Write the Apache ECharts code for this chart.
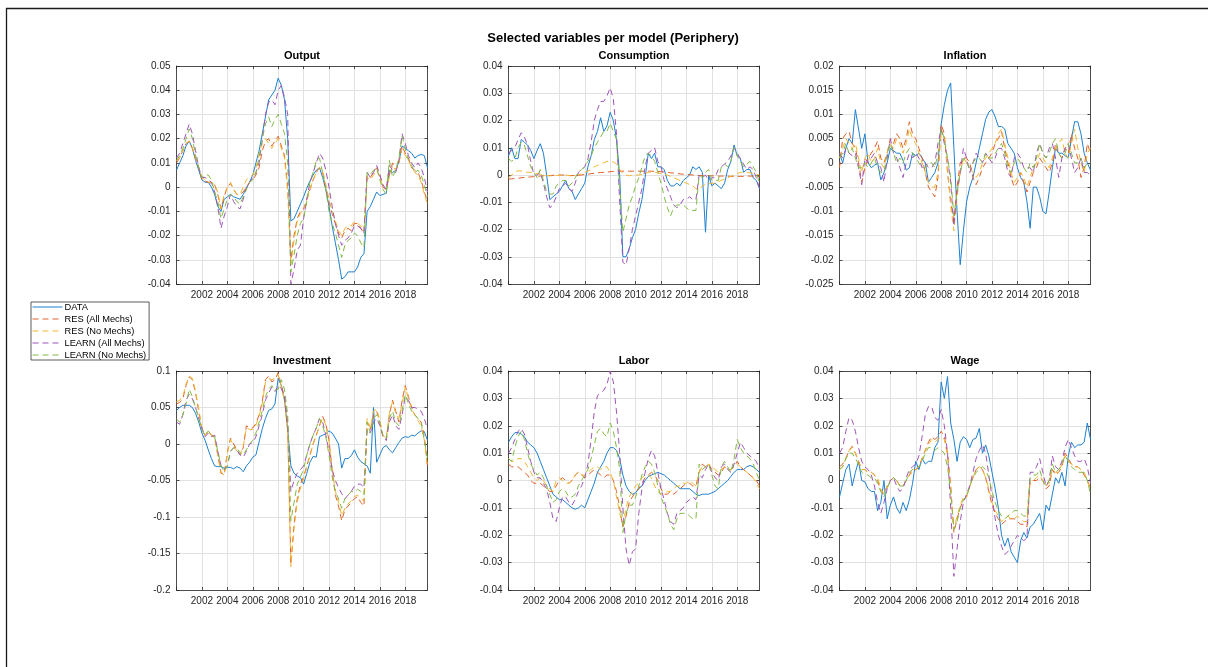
<!DOCTYPE html>
<html><head><meta charset="utf-8">
<script src="https://cdn.jsdelivr.net/npm/echarts@6/dist/echarts.min.js"></script>
<style>html,body{margin:0;padding:0;background:#fff}#c{width:1208px;height:667px}</style>
</head><body><div id="c"></div>
<script>
// ---------------- DATA ----------------
const FIRST_YEAR = 2000;
const QUARTERS = 80; // 2000Q1 .. 2019Q4
const seriesNames = ['DATA', 'RES (All Mechs)', 'RES (No Mechs)', 'LEARN (All Mechs)', 'LEARN (No Mechs)'];
const panelTitles = ['Output', 'Consumption', 'Inflation', 'Investment', 'Labor', 'Wage'];
const mainTitle = 'Selected variables per model (Periphery)';
const yMin = [-0.04, -0.04, -0.025, -0.2, -0.04, -0.04];
const yMax = [0.05, 0.04, 0.02, 0.1, 0.04, 0.04];
const yStep = [0.01, 0.01, 0.005, 0.05, 0.01, 0.01];

// Output
const out_data = [
 .007,.010,.013,.017,.019,.016,.011,.007,.003,.002,
 .002,.000,-.003,-.008,-.010,-.005,-.004,-.003,-.004,-.0045,
 -.005,-.003,-.0005,.002,.005,.010,.015,.022,.029,.036,
 .038,.040,.045,.042,.036,.020,-.014,-.013,-.010,-.007,
 -.004,-.0005,.0025,.005,.007,.008,.004,-.001,-.008,-.016,
 -.023,-.030,-.038,-.037,-.035,-.035,-.035,-.033,-.029,-.0275,
 -.010,-.008,-.005,-.002,-.0035,-.003,-.0026,.007,.006,.007,
 .0105,.017,.016,.015,.014,.012,.013,.0135,.013,.008];
const out_resAll = [
 .010,.012,.015,.018,.019,.016,.012,.008,.003,.0025,
 .002,.0015,.001,-.003,-.009,-.004,.000,.0015,-.001,-.003,
 -.003,-.002,.000,.002,.003,.005,.008,.015,.019,.020,
 .017,.019,.021,.017,.013,.000,-.030,-.020,-.013,-.010,
 -.009,-.005,-.001,.003,.006,.008,.006,.000,-.006,-.011,
 -.015,-.019,-.021,-.018,-.017,-.018,-.015,-.015,-.017,-.019,
 .005,.004,.006,.008,.005,.000,-.001,.005,.010,.007,
 .010,.017,.014,.012,.008,.007,.006,.003,-.002,-.006];
const out_resNo = [
 .011,.012,.015,.018,.019,.016,.012,.008,.004,.003,
 .002,.002,.001,-.002,-.009,-.003,.000,.002,-.001,-.003,
 -.003,.000,.003,.004,.005,.008,.014,.018,.020,.018,
 .016,.018,.020,.016,.012,-.002,-.032,-.022,-.014,-.011,
 -.009,-.006,-.001,.003,.006,.008,.007,.001,-.005,-.010,
 -.014,-.018,-.020,-.017,-.016,-.016,-.014,-.015,-.016,-.018,
 .004,.003,.005,.007,.004,.000,-.001,.004,.009,.007,
 .010,.016,.013,.011,.008,.006,.005,.002,-.003,-.007];
const out_learnAll = [
 .012,.014,.018,.022,.026,.022,.015,.008,.004,.004,
 .003,.002,-.002,-.008,-.017,-.012,-.008,-.003,-.006,-.008,
 -.009,-.005,.000,.002,.004,.006,.010,.020,.030,.035,
 .036,.034,.040,.042,.037,.030,-.040,-.034,-.026,-.024,
 -.013,-.005,.002,.006,.010,.014,.012,.007,.000,-.008,
 -.015,-.020,-.024,-.022,-.021,-.019,-.016,-.016,-.017,-.019,
 .006,.004,.006,.009,.005,.001,-.001,.009,.007,.006,
 .011,.022,.018,.013,.010,.008,.010,.008,.004,-.002];
const out_learnNo = [
 .011,.013,.016,.020,.024,.020,.013,.008,.004,.005,
 .005,.003,-.002,-.006,-.013,-.009,-.005,-.003,-.004,-.006,
 -.007,-.004,-.001,.002,.003,.006,.012,.020,.026,.029,
 .025,.028,.030,.026,.022,.010,-.035,-.028,-.020,-.015,
 -.013,-.006,.002,.006,.011,.012,.006,-.001,-.010,-.015,
 -.019,-.024,-.029,-.024,-.022,-.021,-.019,-.020,-.023,-.025,
 .006,.005,.007,.008,.003,-.001,-.003,.011,.004,.007,
 .012,.021,.016,.011,.009,.006,.007,.005,.001,-.004];

// Consumption
const con_data = [
 .007,.010,.006,.006,.013,.012,.011,.009,.006,.009,
 .0115,.008,.000,-.009,-.008,-.007,-.006,-.004,-.002,-.005,
 -.006,-.009,-.007,-.005,-.003,.003,.007,.013,.016,.021,
 .016,.018,.023,.020,.013,.000,-.030,-.030,-.027,-.023,
 -.020,-.014,-.009,-.001,.008,.006,.008,.003,.003,.002,
 -.002,-.004,-.004,-.003,-.004,-.002,-.001,.000,.003,.002,
 .003,.001,-.021,.000,-.004,-.003,-.004,-.005,-.003,.002,
 .005,.011,.007,.006,.001,.002,.002,-.001,-.002,-.005];
const con_resAll = [
 -.0015,-.0014,-.0013,-.0012,-.001,-.0009,-.0008,-.0007,-.0006,-.0005,
 -.0004,-.0003,-.0003,-.0002,-.0001,-.0001,.0000,.0000,-.0001,-.0002,
 -.0002,-.0002,-.0001,.0000,.0002,.0003,.0005,.0006,.0008,.0009,
 .0010,.0011,.0012,.0013,.0013,.0014,.0014,.0014,.0014,.0014,
 .0014,.0014,.0014,.0014,.0014,.0014,.0013,.0013,.0012,.0011,
 .0010,.0008,.0007,.0006,.0004,.0003,.0002,.0001,.0000,-.0001,
 -.0002,-.0002,-.0003,-.0003,-.0003,-.0003,-.0004,-.0004,-.0004,-.0004,
 -.0005,-.0005,-.0005,-.0005,-.0005,-.0004,-.0004,-.0004,-.0005,-.0006];
const con_resNo = [
 -.001,.000,.001,.0015,.0015,.001,.001,.001,.0008,.0005,
 .0003,.000,-.0002,-.0003,-.0003,-.0002,-.0001,.000,.000,-.0002,
 -.0003,-.0002,.000,.0005,.001,.0015,.002,.003,.0035,.004,
 .0045,.005,.005,.0048,.004,.002,.0005,.000,-.0003,.000,
 .000,.000,.0002,.0005,.001,.0012,.001,.0008,.0005,.0002,
 .000,-.0005,-.001,-.0015,-.002,-.0025,-.003,-.0035,-.004,-.005,
 -.0055,-.004,-.0035,-.003,-.003,-.003,-.0025,-.002,-.0015,-.001,
 -.0005,.000,.0005,.001,.001,.001,.0008,.0005,.0003,.000];
const con_learnAll = [
 .008,.009,.010,.013,.0155,.014,.011,.005,.000,.000,
 .001,-.003,-.008,-.012,-.011,-.008,-.005,-.004,-.003,-.005,
 -.006,-.003,.001,.002,.003,.006,.012,.020,.024,.027,
 .027,.029,.032,.028,.015,-.010,-.032,-.033,-.027,-.020,
 -.015,-.010,-.005,.003,.008,.009,.010,.005,.003,-.002,
 -.005,-.008,-.011,-.012,-.011,-.009,-.009,-.008,-.009,-.009,
 .000,-.001,.000,-.002,-.001,-.001,.002,.003,.004,.005,
 .007,.010,.008,.006,.004,.002,.003,.002,-.001,-.005];
const con_learnNo = [
 .006,.005,.006,.010,.012,.011,.007,.003,.001,-.001,
 .002,-.002,-.006,-.007,-.007,-.004,-.003,-.002,-.002,-.004,
 -.003,-.001,.001,.002,.003,.005,.007,.010,.012,.014,
 .016,.016,.019,.016,.013,-.004,-.021,-.016,-.011,-.008,
 -.004,-.001,.003,.007,.008,.007,.005,.001,-.003,-.008,
 -.012,-.015,-.012,-.011,-.011,-.011,-.012,-.013,-.013,-.013,
 .000,-.001,.001,.002,-.002,-.002,-.002,.003,.004,.003,
 .005,.010,.007,.005,.003,.004,.005,.003,.001,-.003];

// Inflation
const inf_data = [
 .002,.000,.003,.005,.004,.011,.007,.003,.006,.000,
 -.001,-.0005,.000,-.0035,-.002,.000,.003,.0025,.002,.002,
 .0005,-.0015,-.001,.002,.0015,.002,.001,.000,-.004,-.003,
 -.002,.000,.008,.012,.015,.0165,.003,-.010,-.021,-.014,
 -.008,-.005,-.003,.000,.003,.006,.009,.0105,.011,.0095,
 .0075,.0075,.007,.004,.003,.002,-.001,-.003,-.004,-.008,
 -.0135,-.005,-.005,-.007,-.010,-.0105,-.006,-.001,.003,.002,
 .002,.0015,.001,.005,.0085,.0085,.006,.002,.000,-.0015];
const inf_resAll = [
 -.001,.005,.006,.0065,.004,.003,.000,-.004,-.001,.001,
 .002,.003,.0045,.001,.000,.002,.005,.004,.006,.005,
 .003,.005,.0085,.006,.005,.003,.001,-.002,-.005,-.006,
 -.007,-.003,.008,.006,-.002,-.008,-.012,-.005,.000,.001,
 .001,.000,-.003,-.0045,-.003,-.001,.000,.001,.002,.004,
 .005,.0065,.003,.000,-.003,-.005,-.004,-.002,-.004,-.006,
 -.004,-.002,-.001,.001,.000,-.001,-.002,.000,.004,.002,
 .001,.003,.002,.006,.003,.001,-.003,-.001,.004,.002];
const inf_resNo = [
 .001,.003,.005,.004,.003,.004,.001,-.002,.001,.002,
 .000,.001,.003,.000,-.001,.002,.004,.003,.005,.004,
 .002,.004,.007,.005,.004,.002,.000,-.002,-.004,-.005,
 -.005,-.002,.007,.005,-.001,-.009,-.014,-.007,-.002,.001,
 .000,-.001,-.002,-.003,-.002,.000,.001,.002,.003,.004,
 .006,.007,.004,.001,-.002,-.004,-.003,-.002,-.003,-.005,
 -.003,-.001,.000,.002,.001,.000,-.001,.001,.003,.004,
 .005,.002,.001,.004,.007,.003,.000,-.002,.002,.003];
const inf_learnAll = [
 .002,.001,.003,.002,.0015,.002,-.001,-.0045,.001,.000,
 .001,.002,.000,-.001,-.004,.001,.005,.002,.001,-.001,
 -.003,.000,.002,.001,.002,.001,-.001,.000,-.001,-.001,
 .000,.004,.007,.004,.001,-.004,-.013,-.006,-.002,.003,
 .001,-.002,.000,.002,.001,.000,.002,.001,.000,.001,
 .003,.003,.001,-.002,-.003,.001,.002,.001,-.001,-.001,
 -.001,-.002,.002,.004,.002,.001,.003,.004,.001,-.003,
 .001,.003,.004,.001,-.002,-.001,.001,-.002,-.002,-.0025];
const inf_learnNo = [
 .001,.002,.004,.002,.003,.001,-.001,-.001,.000,-.001,
 .000,.001,-.001,-.002,-.002,.002,.004,.002,.000,.001,
 .000,.002,.003,.002,.001,.000,-.001,-.001,.000,.000,
 -.001,.002,.007,.005,.001,-.003,-.011,-.006,-.002,.001,
 .000,-.001,.000,.001,.001,.000,.002,.001,.001,.002,
 .003,.004,.002,-.001,-.002,.000,.001,.000,-.001,-.002,
 .000,-.001,.001,.004,.002,.001,.002,.004,.005,.002,
 .001,.002,.004,.002,.000,.000,.001,-.001,.000,.000];

// Investment
const inv_data = [
 .046,.050,.053,.053,.053,.050,.042,.030,.015,.005,
 -.008,-.020,-.030,-.031,-.031,-.033,-.032,-.032,-.034,-.031,
 -.033,-.038,-.030,-.025,-.018,-.015,.003,.021,.035,.046,
 .048,.055,.090,.080,.060,.020,-.030,-.040,-.044,-.046,
 -.055,-.040,-.025,-.017,-.018,.010,.012,.014,.018,.015,
 .008,.000,-.033,-.020,-.020,-.016,-.008,-.018,-.024,-.027,
 -.030,-.040,.050,-.025,-.015,-.005,-.002,-.008,-.012,-.005,
 .002,.008,.010,.009,.012,.011,.015,.018,.017,.005];
const inv_resAll = [
 .055,.057,.062,.080,.092,.088,.070,.045,.020,.012,
 .018,.012,.010,-.015,-.040,-.042,-.012,.008,.000,-.008,
 -.015,-.005,.025,.022,.022,.028,.040,.058,.088,.093,
 .085,.088,.098,.080,.065,.020,-.165,-.110,-.075,-.055,
 -.045,-.030,-.015,.000,.012,.025,.038,.028,.005,-.035,
 -.070,-.085,-.105,-.090,-.085,-.080,-.075,-.072,-.080,-.085,
 .030,.020,.040,.045,.030,.010,.005,.040,.060,.045,
 .030,.060,.080,.065,.050,.040,.035,.030,.010,-.030];
const inv_resNo = [
 .058,.060,.065,.082,.093,.090,.072,.048,.022,.012,
 .018,.012,.008,-.015,-.038,-.043,-.012,.006,-.002,-.010,
 -.015,-.003,.022,.020,.020,.026,.038,.055,.085,.090,
 .088,.090,.095,.078,.060,.015,-.168,-.115,-.080,-.060,
 -.048,-.032,-.016,.000,.012,.025,.036,.026,.004,-.035,
 -.065,-.080,-.098,-.088,-.082,-.078,-.072,-.070,-.075,-.078,
 .035,.022,.045,.048,.032,.012,.008,.042,.058,.042,
 .035,.055,.078,.062,.048,.040,.032,.025,.005,-.032];
const inv_learnAll = [
 .030,.027,.040,.060,.068,.062,.050,.035,.022,.010,
 .015,.010,.012,-.010,-.030,-.035,-.030,-.010,-.005,-.008,
 -.015,-.018,-.010,.000,.002,.010,.025,.040,.060,.070,
 .078,.072,.080,.076,.065,.030,-.065,-.050,-.040,-.035,
 -.030,-.015,.000,.012,.022,.035,.030,.012,-.010,-.035,
 -.050,-.060,-.068,-.075,-.070,-.065,-.058,-.055,-.055,-.060,
 .020,.015,.030,.035,.025,.010,.005,.030,.040,.025,
 .020,.040,.065,.060,.050,.050,.048,.045,.035,.020];
const inv_learnNo = [
 .034,.030,.040,.055,.075,.065,.050,.035,.020,.012,
 .018,.012,.010,-.010,-.030,-.038,-.030,-.010,-.005,-.005,
 -.012,-.015,-.008,.000,.005,.015,.030,.045,.065,.075,
 .080,.073,.075,.088,.075,.040,-.105,-.080,-.055,-.045,
 -.035,-.015,.000,.012,.022,.035,.025,.010,-.015,-.045,
 -.065,-.075,-.088,-.075,-.070,-.065,-.066,-.062,-.065,-.070,
 .030,.015,.035,.040,.030,.010,.008,.035,.045,.030,
 .025,.045,.068,.055,.045,.040,.035,.030,.005,-.020];

// Labor
const lab_data = [
 .014,.016,.0175,.0175,.017,.016,.014,.013,.012,.010,
 .007,.004,.001,-.002,-.005,-.006,-.007,-.007,-.008,-.009,
 -.010,-.0105,-.010,-.009,-.010,-.007,-.004,-.001,.003,.005,
 .007,.010,.012,.012,.011,.008,.002,-.002,-.004,-.005,
 -.0045,-.003,-.002,.000,.0015,.002,.0025,.003,.0025,.002,
 .001,.000,-.001,-.002,-.003,-.003,-.003,-.003,-.004,-.005,
 -.0055,-.005,-.005,-.005,-.0045,-.004,-.003,-.002,-.001,.000,
 .0015,.003,.004,.004,.004,.005,.0055,.005,.004,.003];
const lab_resAll = [
 .006,.005,.005,.005,.004,.003,.002,.000,-.001,-.001,
 -.001,-.002,-.003,-.004,-.004,-.002,.000,.001,.000,-.001,
 .000,.002,.003,.002,.001,.002,.003,.004,.003,.002,
 .001,.002,.002,.000,-.004,-.010,-.017,-.013,-.008,-.006,
 -.004,-.003,-.001,.001,.002,.003,.002,.000,-.003,-.005,
 -.005,-.004,-.005,-.004,-.003,-.002,-.001,-.001,-.002,-.002,
 .003,.006,.005,.006,.004,.003,.002,.003,.005,.004,
 .004,.005,.007,.005,.004,.003,.002,.001,.000,-.002];
const lab_resNo = [
 .008,.007,.007,.008,.008,.007,.005,.003,.001,.000,
 .001,.000,-.002,-.003,-.004,.000,.001,.000,-.001,-.001,
 .000,.002,.003,.002,.002,.003,.004,.005,.005,.004,
 .005,.005,.003,.000,-.006,-.012,-.016,-.010,-.006,-.004,
 -.002,-.001,.001,.002,.002,.001,-.002,-.004,-.005,-.005,
 -.004,-.004,-.003,-.002,-.002,-.001,-.001,.000,-.001,-.002,
 .003,.005,.005,.006,.005,.004,.003,.004,.005,.004,
 .004,.005,.006,.005,.004,.003,.002,.001,-.001,-.003];
const lab_learnAll = [
 .010,.012,.015,.018,.019,.017,.012,.007,.003,.001,
 .001,-.001,-.003,-.008,-.014,-.015,-.010,-.006,-.006,-.008,
 -.009,-.007,-.004,-.002,.001,.006,.015,.025,.031,.032,
 .033,.035,.040,.036,.025,.010,-.010,-.025,-.031,-.026,
 -.025,-.012,-.003,.003,.008,.011,.009,.003,-.003,-.007,
 -.012,-.015,-.016,-.012,-.011,-.010,-.008,-.007,-.006,-.007,
 .002,.001,.004,.006,.003,.001,.000,.005,.006,.004,
 .003,.006,.010,.014,.012,.010,.009,.008,.007,.004];
const lab_learnNo = [
 .008,.007,.012,.016,.018,.015,.010,.006,.004,.002,
 .003,.001,-.002,-.005,-.008,-.007,-.004,-.003,-.004,-.006,
 -.006,-.005,-.002,.000,.002,.004,.008,.013,.018,.019,
 .017,.016,.021,.018,.012,.004,-.019,-.012,-.009,-.009,
 -.006,-.002,.002,.005,.007,.006,.003,-.002,-.006,-.009,
 -.012,-.016,-.018,-.014,-.012,-.012,-.012,-.013,-.014,-.014,
 .006,.004,.005,.006,.002,-.002,-.003,.005,.007,.005,
 .003,.008,.015,.012,.010,.009,.008,.006,.003,.000];

// Wage
const wag_data = [
 -.006,-.001,.004,.006,-.002,.003,.007,.000,-.0005,-.003,
 -.004,-.004,-.011,-.008,.000,-.014,-.009,-.006,-.010,-.012,
 -.008,-.011,-.007,-.001,.007,.004,.008,.006,.007,.007,
 .012,.014,.036,.030,.038,.021,.015,.007,.014,.016,
 .015,.012,.015,.0155,.019,.010,.013,.009,.003,-.003,
 -.010,-.020,-.024,-.021,-.026,-.028,-.030,-.022,-.019,-.021,
 -.017,-.016,-.014,-.012,-.018,-.009,-.011,-.005,.001,-.001,
 .003,-.002,.009,.014,.012,.013,.013,.014,.021,.015];
const wag_resAll = [
 .005,.006,.008,.011,.0125,.010,.007,.004,.004,.003,
 .003,.002,.000,-.004,-.005,-.002,.000,.001,.000,-.002,
 -.002,.000,.002,.004,.004,.005,.008,.011,.014,.016,
 .015,.016,.018,.016,.010,-.002,-.019,-.014,-.010,-.007,
 -.006,-.002,.001,.004,.005,.004,.001,-.004,-.009,-.012,
 -.014,-.016,-.015,-.014,-.014,-.014,-.015,-.016,-.016,-.017,
 .000,.000,.000,.001,.000,-.003,-.002,.004,.002,.003,
 .005,.010,.008,.006,.005,.005,.004,.002,.000,-.003];
const wag_resNo = [
 .004,.005,.008,.011,.012,.010,.007,.004,.004,.003,
 .003,.002,.001,-.003,-.005,-.002,.000,.001,.000,-.002,
 -.002,.000,.002,.003,.004,.005,.008,.011,.013,.015,
 .014,.015,.016,.015,.009,-.003,-.018,-.013,-.009,-.006,
 -.006,-.002,.001,.004,.005,.004,.001,-.003,-.008,-.011,
 -.013,-.015,-.014,-.013,-.014,-.014,-.013,-.014,-.015,-.015,
 .000,.000,.001,.002,.000,-.002,-.001,.004,.003,.003,
 .006,.009,.007,.006,.005,.005,.004,.003,.000,-.004];
const wag_learnAll = [
 .010,.012,.018,.023,.022,.018,.012,.007,.005,.004,
 .002,-.002,-.008,-.012,-.008,-.003,.000,.001,-.002,-.004,
 -.003,.001,.004,.005,.006,.009,.016,.024,.027,.027,
 .023,.022,.026,.020,.010,-.010,-.035,-.025,-.015,-.008,
 -.005,-.002,.003,.008,.011,.013,.010,.002,-.006,-.014,
 -.020,-.024,-.027,-.026,-.024,-.022,-.020,-.021,-.022,-.021,
 .003,.003,.005,.008,.003,-.002,.000,.009,.005,.004,
 .007,.012,.015,.012,.009,.007,.007,.008,.005,-.001];
const wag_learnNo = [
 .004,.005,.008,.010,.010,.008,.006,.003,.002,.002,
 .001,.001,-.001,-.004,-.006,-.003,.000,.001,.000,-.002,
 -.002,.000,.003,.004,.004,.005,.007,.010,.012,.012,
 .011,.012,.011,.010,.005,-.004,-.018,-.015,-.010,-.007,
 -.006,-.002,.001,.003,.004,.005,.004,.001,-.004,-.008,
 -.011,-.013,-.014,-.013,-.012,-.011,-.011,-.012,-.013,-.013,
 .001,.002,.002,.004,.000,-.002,.000,.006,.003,.004,
 .006,.009,.007,.005,.004,.003,.003,.003,.000,-.005];

// ---------------- CHART ----------------
const panels = [
  [out_data, out_resAll, out_resNo, out_learnAll, out_learnNo],
  [con_data, con_resAll, con_resNo, con_learnAll, con_learnNo],
  [inf_data, inf_resAll, inf_resNo, inf_learnAll, inf_learnNo],
  [inv_data, inv_resAll, inv_resNo, inv_learnAll, inv_learnNo],
  [lab_data, lab_resAll, lab_resNo, lab_learnAll, lab_learnNo],
  [wag_data, wag_resAll, wag_resNo, wag_learnAll, wag_learnNo]
];
const quarters = Array.from({length: QUARTERS}, (_, i) => FIRST_YEAR + i / 4);
const colors = ['#1f80cf', '#e0602a', '#efb630', '#9e55b8', '#82b944'];
const dashes = ['solid', [6, 4], [6, 4], [6, 4], [6, 4]];
const FONT = 'Liberation Sans, Arial, Helvetica, sans-serif';
const AX = '#262626';
const gridLefts = [176.5, 508.5, 839.5];
const gridTops = [66, 371];
const gridW = 251, gridHs = [218, 219];

const grids = [], xAxes = [], yAxes = [], series = [];
const fmtY = v => { const r = Math.round(v * 1e6) / 1e6; return r === 0 ? '0' : String(r); };
const fmtX = v => (v > 2001 && v < 2019) ? String(Math.round(v)) : '';

panels.forEach((pd, p) => {
  const col = p % 3, row = Math.floor(p / 3);
  grids.push({left: gridLefts[col], top: gridTops[row], width: gridW, height: gridHs[row], containLabel: false});
  const axLine = {show: true, onZero: false, lineStyle: {color: AX, width: 0.8}};
  const tick = {show: true, inside: true, length: 3, lineStyle: {color: AX, width: 0.8}};
  const split = {show: true, lineStyle: {color: '#e2e2e2', width: 1}};
  xAxes.push({gridIndex: p, type: 'value', position: 'bottom', min: 2000, max: 2019.75, interval: 2,
    axisLine: axLine, axisTick: tick, splitLine: split,
    axisLabel: {formatter: fmtX, fontSize: 10, color: AX, margin: 6, fontFamily: FONT, showMaxLabel: false}});
  xAxes.push({gridIndex: p, type: 'value', position: 'top', min: 2000, max: 2019.75, interval: 2,
    axisLine: axLine, axisTick: tick, splitLine: {show: false}, axisLabel: {show: false},
    name: panelTitles[p], nameLocation: 'middle', nameGap: 5,
    nameTextStyle: {fontWeight: 'bold', fontSize: 11, color: '#000', fontFamily: FONT, verticalAlign: 'bottom'}});
  yAxes.push({gridIndex: p, type: 'value', position: 'left', min: yMin[p], max: yMax[p], interval: yStep[p],
    axisLine: axLine, axisTick: tick, splitLine: split,
    axisLabel: {formatter: fmtY, fontSize: 10, color: AX, margin: 6, fontFamily: FONT}});
  yAxes.push({gridIndex: p, type: 'value', position: 'right', min: yMin[p], max: yMax[p], interval: yStep[p],
    axisLine: axLine, axisTick: tick, splitLine: {show: false}, axisLabel: {show: false}});
  pd.forEach((arr, m) => {
    series.push({
      name: seriesNames[m], type: 'line', xAxisIndex: 2 * p, yAxisIndex: 2 * p,
      data: quarters.map((t, i) => [t, arr[i]]),
      symbol: 'none', showSymbol: false, silent: true, clip: true,
      itemStyle: {color: colors[m]},
      lineStyle: {color: colors[m], width: 1, type: dashes[m]},
      z: 2 + m
    });
  });
});

const chart = echarts.init(document.getElementById('c'), null, {renderer: 'canvas'});
chart.setOption({
  animation: false,
  backgroundColor: '#fff',
  grid: grids, xAxis: xAxes, yAxis: yAxes, series: series,
  legend: {
    data: seriesNames.map((n, m) => ({name: n, lineStyle: {color: colors[m], width: 1, type: dashes[m], opacity: 1}})),
    orient: 'vertical', left: 31, top: 302,
    itemWidth: 30, itemHeight: 9, itemGap: 3, padding: [0.5, 3, 0.5, 1],
    borderColor: '#333', borderWidth: 0.8, backgroundColor: '#fff',
    selectedMode: false, itemStyle: {opacity: 0},
    textStyle: {fontSize: 9.3, color: '#000', fontFamily: FONT, padding: [0, 0, 0, -3]}
  },
  graphic: [
    {type: 'text', x: 613, y: 38, silent: true,
     style: {text: mainTitle, font: 'bold 13px ' + FONT, fill: '#000', align: 'center', verticalAlign: 'middle', textAlign: 'center', textVerticalAlign: 'middle'}},
    {type: 'polyline', silent: true, shape: {points: [[6.5, 667], [6.5, 8.5], [1208, 8.5]]},
     style: {stroke: '#1a1a1a', lineWidth: 1.3, fill: null}}
  ]
});
panels.forEach((pd, p) => pd.forEach((arr, m) => {
  if (arr.length !== QUARTERS) throw new Error('length ' + panelTitles[p] + ' ' + seriesNames[m] + ' = ' + arr.length);
}));
</script>
</body></html>
